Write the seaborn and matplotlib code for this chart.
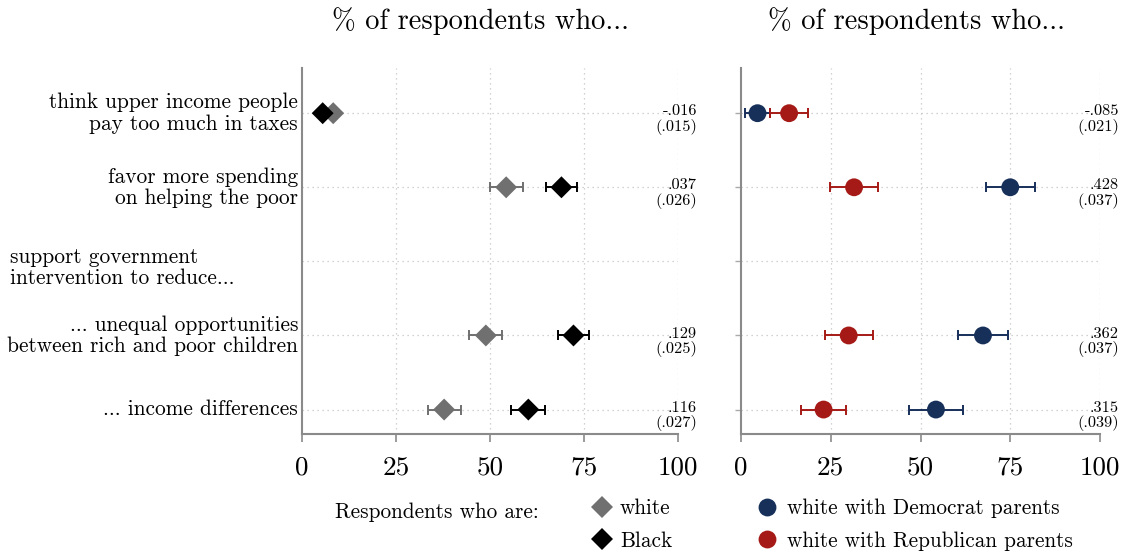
import numpy as np
import pandas as pd
import matplotlib
matplotlib.use("Agg")
import matplotlib.pyplot as plt
import seaborn as sns

sns.set_theme(style="white")
plt.rcParams['font.family'] = ['cmr10', 'DejaVu Serif']
plt.rcParams['axes.formatter.use_mathtext'] = True
plt.rcParams['mathtext.fontset'] = 'cm'
plt.rcParams['text.color'] = 'black'
plt.rcParams['axes.titlecolor'] = 'black'

# ---- data ----
rows = [
    "think upper income people\npay too much in taxes",
    "favor more spending\non helping the poor",
    "support government\nintervention to reduce...",
    "... unequal opportunities\nbetween rich and poor children",
    "... income differences",
]
row_pos = [1, 2, 3, 4, 5]
data_rows = [1, 2, 4, 5]

white_mean = [8.3, 54.3, 48.9, 37.8]
white_err = [1.0, 4.4, 4.4, 4.4]
black_mean = [5.5, 69.0, 72.2, 60.2]
black_err = [1.2, 4.2, 4.0, 4.5]

dem_mean = [4.6, 75.0, 67.4, 54.3]
dem_err = [3.4, 6.8, 7.0, 7.5]
rep_mean = [13.4, 31.5, 30.0, 23.0]
rep_err = [5.3, 6.7, 6.7, 6.2]

left_coef = ["-.016", ".037", ".129", ".116"]
left_se = ["(.015)", "(.026)", "(.025)", "(.027)"]
right_coef = ["-.085", ".428", ".362", ".315"]
right_se = ["(.021)", "(.037)", "(.037)", "(.039)"]

xticks = [0, 25, 50, 75, 100]

C_WHITE = "#707070"
C_BLACK = "#000000"
C_DEM = "#17305a"
C_REP = "#a51a16"
SPINE = "#8a8a8a"

fig = plt.figure(figsize=(11.28, 5.56), dpi=100)
W, H = 1128, 556
axL = fig.add_axes([302 / W, 1 - 434 / H, 376 / W, (434 - 68) / H])
axR = fig.add_axes([741 / W, 1 - 434 / H, 359 / W, (434 - 68) / H])

dfL = pd.DataFrame({
    "x": white_mean + black_mean,
    "y": data_rows + data_rows,
    "err": white_err + black_err,
    "group": ["white"] * 4 + ["Black"] * 4,
})
dfR = pd.DataFrame({
    "x": dem_mean + rep_mean,
    "y": data_rows + data_rows,
    "err": dem_err + rep_err,
    "group": ["white with Democrat parents"] * 4 + ["white with Republican parents"] * 4,
})

def setup(ax, yticks_on, title_x):
    ax.set_xlim(0, 100)
    ax.set_ylim(5.33, 0.39)
    ax.set_xticks(xticks)
    ax.set_xticklabels([str(t) for t in xticks], fontsize=19.5)
    ax.set_yticks(row_pos)
    ax.set_yticklabels([])
    for v in xticks[1:]:
        ax.axvline(v, color="#c4c4c4", lw=0.9, ls=(0, (1, 3)), zorder=0)
    for r in row_pos:
        ax.axhline(r, color="#c4c4c4", lw=0.9, ls=(0, (1, 3)), zorder=0)
    for s in ["top", "right"]:
        ax.spines[s].set_visible(False)
    for s in ["left", "bottom"]:
        ax.spines[s].set_color(SPINE)
        ax.spines[s].set_linewidth(1.5)
    ax.tick_params(axis="x", bottom=True, length=6, width=1.2, color=SPINE, pad=10,
                   labelcolor="black")
    ax.tick_params(axis="y", left=yticks_on, length=4, width=1.0, color="#aaaaaa")
    ax.set_title("% of respondents who...", fontsize=20.5, pad=28, x=title_x)

setup(axL, False, 0.476)
setup(axR, True, 0.4875)

# error bars
for df, ax, cols in [(dfL, axL, {"white": C_WHITE, "Black": C_BLACK}),
                     (dfR, axR, {"white with Democrat parents": C_DEM,
                                 "white with Republican parents": C_REP})]:
    for g, sub in df.groupby("group", sort=False):
        ax.errorbar(sub["x"], sub["y"], xerr=sub["err"], fmt="none",
                    ecolor=cols[g], elinewidth=1.4, capsize=3.5, capthick=1.4, zorder=2)

sns.scatterplot(data=dfL, x="x", y="y", hue="group", palette={"white": C_WHITE, "Black": C_BLACK},
                marker="D", s=125, linewidth=0, ax=axL, zorder=3)
sns.scatterplot(data=dfR, x="x", y="y", hue="group",
                palette={"white with Democrat parents": C_DEM, "white with Republican parents": C_REP},
                marker="o", s=165, linewidth=0, ax=axR, zorder=3)
for ax in (axL, axR):
    ax.set_xlabel("")
    ax.set_ylabel("")

# coefficient annotations
for ax, coefs, ses in [(axL, left_coef, left_se), (axR, right_coef, right_se)]:
    for r, c, s in zip(data_rows, coefs, ses):
        ax.annotate(c + "\n" + s, xy=(1.0, r), xycoords=("axes fraction", "data"),
                    xytext=(19, -6.5), textcoords="offset pixels",
                    ha="right", va="center", fontsize=11.8, multialignment="right",
                    linespacing=1.04, annotation_clip=False)

# row labels
for r, lab in zip(row_pos, rows):
    if r == 3:
        axL.annotate(lab, xy=(10 / W, r), xycoords=(fig.transFigure, "data"),
                     xytext=(0, -6), textcoords="offset pixels",
                     ha="left", va="center", fontsize=15.4, multialignment="left",
                     linespacing=1.1, annotation_clip=False)
    else:
        axL.annotate(lab, xy=(0, r), xycoords=("axes fraction", "data"),
                     xytext=(-4, 0), textcoords="offset pixels",
                     ha="right", va="center", fontsize=15.4, multialignment="right",
                     linespacing=1.1, annotation_clip=False)

# legends
sns.move_legend(axL, loc="upper left", bbox_to_anchor=(578.6 / W, 1 - 488 / H),
                bbox_transform=fig.transFigure, frameon=False, title=None,
                fontsize=15.3, handletextpad=0.25, labelspacing=0.62, borderpad=0,
                handlelength=1.2)
sns.move_legend(axR, loc="upper left", bbox_to_anchor=(743.6 / W, 1 - 488 / H),
                bbox_transform=fig.transFigure, frameon=False, title=None,
                fontsize=15.3, handletextpad=0.34, labelspacing=0.62, borderpad=0,
                handlelength=1.2)
fig.text(335 / W, 1 - 512 / H, "Respondents who are:", fontsize=15.3, va="center", ha="left")

fig.savefig("out.png", dpi=100)
